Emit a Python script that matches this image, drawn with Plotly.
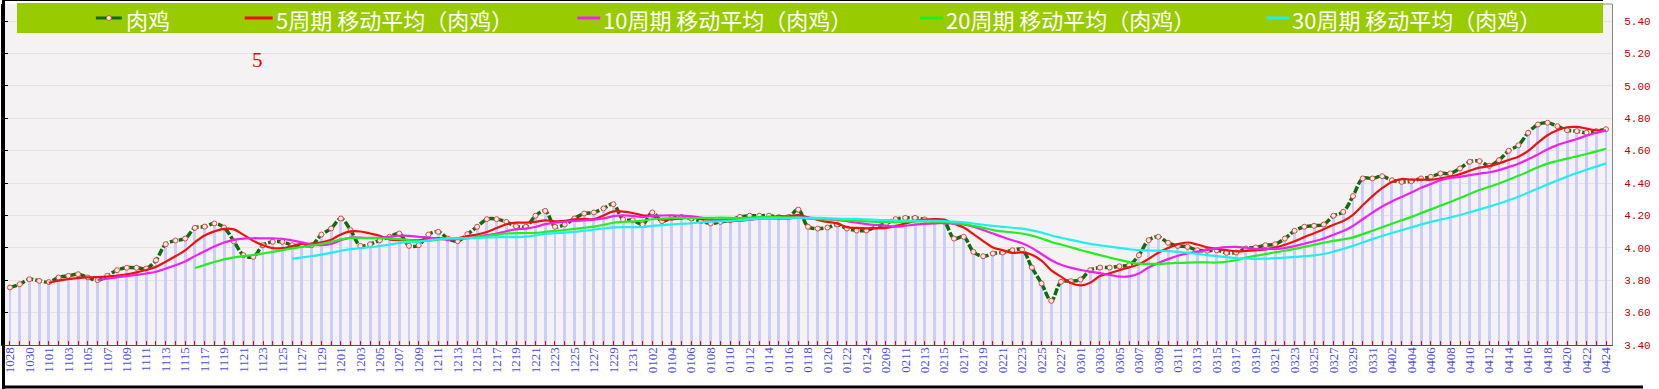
import plotly.graph_objects as go
import pandas as pd

# ---------------- data ----------------
date_segments = [(10, 28, 31), (11, 1, 30), (12, 1, 31), (1, 1, 25),
                 (2, 9, 28), (3, 1, 31), (4, 1, 24)]
dates = [f"{m:02d}{d:02d}" for m, a, b in date_segments for d in range(a, b + 1)]

chicken = [
    3.755, 3.775, 3.806, 3.796, 3.788, 3.817, 3.827, 3.837, 3.817, 3.800,
    3.827, 3.862, 3.877, 3.877, 3.872, 3.923, 4.022, 4.045, 4.057, 4.123,
    4.131, 4.150, 4.125, 4.040, 3.954, 3.944, 4.016, 4.037, 4.037, 4.016,
    4.016, 4.016, 4.082, 4.119, 4.181, 4.109, 4.012, 4.022, 4.047, 4.068,
    4.088, 4.012, 4.016, 4.082, 4.099, 4.057, 4.041, 4.084, 4.130, 4.177,
    4.177, 4.160, 4.133, 4.130, 4.198, 4.228, 4.130, 4.144, 4.181, 4.212,
    4.218, 4.243, 4.269, 4.175, 4.170, 4.144, 4.218, 4.164, 4.185, 4.191,
    4.181, 4.164, 4.150, 4.160, 4.170, 4.191, 4.198, 4.198, 4.198, 4.189,
    4.190, 4.236, 4.130, 4.119, 4.125, 4.144, 4.119, 4.107, 4.107, 4.130,
    4.150, 4.177, 4.185, 4.185, 4.175, 4.164, 4.160, 4.057, 4.068, 3.975,
    3.948, 3.965, 3.971, 3.985, 3.989, 3.878, 3.780, 3.673, 3.790, 3.794,
    3.804, 3.862, 3.878, 3.878, 3.886, 3.893, 3.954, 4.047, 4.068, 4.031,
    4.012, 4.006, 3.985, 3.982, 3.985, 3.969, 3.971, 3.996, 4.002, 4.016,
    4.022, 4.057, 4.105, 4.130, 4.136, 4.144, 4.198, 4.222, 4.319, 4.428,
    4.428, 4.442, 4.417, 4.407, 4.411, 4.428, 4.438, 4.459, 4.459, 4.490,
    4.531, 4.535, 4.506, 4.541, 4.599, 4.633, 4.710, 4.761, 4.772, 4.751,
    4.726, 4.720, 4.710, 4.720, 4.732,
]

ma_periods = [5, 10, 20, 30]
series_names = ["肉鸡"] + [f"{p}周期 移动平均（肉鸡）" for p in ma_periods]
y_tick_start, y_tick_step = 3.40, 0.20
y_tick_vals = [3.40, 3.60, 3.80, 4.00, 4.20, 4.40, 4.60, 4.80, 5.00, 5.20, 5.40]

# ---------------- styling ----------------
W, H = 1659, 389
ML, MR, MT, MB = 2, 47, 4, 44
PW = W - ML - MR
PH = H - MT - MB
FIRST_X, LAST_X = 8, 1606
n = len(dates)
per = (LAST_X - FIRST_X) / (n - 1)
x_range = [(ML - FIRST_X) / per, (n - 1) + (W - MR - LAST_X) / per]
y_range = [3.40, 3.40 + PH / 162.0]


def px(xp):
    return (xp - ML) / PW


def py(yp):
    return (H - MB - yp) / PH


main_color = "#0B6E0B"
ma_colors = ["#EE1111", "#EE22EE", "#22EE22", "#22EEEE"]

idx = list(range(n))
s = pd.Series(chicken)

fig = go.Figure()
fig.add_trace(go.Bar(x=idx, y=chicken, width=0.3, marker_color="#CCCCFF",
                     marker_line_width=0, showlegend=False, hoverinfo="skip"))
fig.add_trace(go.Scatter(
    x=idx, y=chicken, name=series_names[0], mode="lines+markers",
    line=dict(color=main_color, width=3.5, shape="spline", dash="7px,2px"),
    marker=dict(symbol="circle", size=5, color="#FFE8E8",
                line=dict(color="#E04848", width=1)),
    showlegend=False))
for p, c, nm in zip(ma_periods, ma_colors, series_names[1:]):
    ma = s.rolling(p).mean()
    fig.add_trace(go.Scatter(
        x=idx, y=ma, name=nm, mode="lines",
        line=dict(color=c, width=2.2, shape="spline"), showlegend=False))

# invisible trace for left axis
fig.add_trace(go.Scatter(x=[0], y=[3.5], yaxis="y2", mode="markers",
                         marker=dict(opacity=0), showlegend=False,
                         hoverinfo="skip"))

ticktext = [d if i % 2 == 0 else "" for i, d in enumerate(dates)]

shapes = []
annotations = []
# legend band
shapes.append(dict(type="rect", xref="paper", yref="paper",
                   x0=px(15), x1=px(1603), y0=py(33), y1=py(3),
                   fillcolor="#99CC00", line=dict(width=0), layer="above"))
leg_lines = [(94, 120), (243, 271), (576, 599), (919, 942), (1266, 1289)]
leg_text_x = [122, 272, 600, 943, 1290]
leg_colors = [main_color] + ma_colors
for (a, b), tx, col, nm in zip(leg_lines, leg_text_x, leg_colors, series_names):
    shapes.append(dict(type="line", xref="paper", yref="paper",
                       x0=px(a), x1=px(b), y0=py(18), y1=py(18),
                       line=dict(color=col, width=3), layer="above"))
    annotations.append(dict(xref="paper", yref="paper", x=px(tx), y=py(19),
                            xanchor="left", yanchor="middle", showarrow=False,
                            text=nm, font=dict(family="Noto Sans CJK SC",
                                               size=22, color="white")))
shapes.append(dict(type="circle", xref="paper", yref="paper",
                   x0=px(104.5), x1=px(109.5), y0=py(20.5), y1=py(15.5),
                   fillcolor="#FFE8E8", line=dict(color="#E04848", width=1),
                   layer="above"))
# red "5"
annotations.append(dict(xref="paper", yref="paper", x=px(256), y=py(60),
                        xanchor="center", yanchor="middle", showarrow=False,
                        text="5", font=dict(family="Liberation Serif", size=21,
                                            color="#EE0000")))
# top plot border (gray) and outer frame
shapes.append(dict(type="line", xref="paper", yref="paper",
                   x0=px(1603), x1=1, y0=1, y1=1,
                   line=dict(color="#888888", width=1)))
shapes.append(dict(type="line", xref="paper", yref="paper",
                   x0=px(0), x1=px(1603), y0=py(0.5), y1=py(0.5),
                   line=dict(color="black", width=1)))
shapes.append(dict(type="line", xref="paper", yref="paper",
                   x0=px(1.5), x1=px(1.5), y0=py(0), y1=py(389),
                   line=dict(color="black", width=3)))
shapes.append(dict(type="line", xref="paper", yref="paper",
                   x0=px(0), x1=px(1643), y0=py(387), y1=py(387),
                   line=dict(color="black", width=3)))

fig.update_layout(
    width=W, height=H,
    margin=dict(l=ML, r=MR, t=MT, b=MB, pad=0),
    paper_bgcolor="white", plot_bgcolor="#F4F2F2",
    showlegend=False,
    bargap=0,
    xaxis=dict(range=x_range, tickmode="array", tickvals=idx,
               ticktext=ticktext, tickangle=-90,
               tickfont=dict(family="Liberation Serif", size=13,
                             color="#4B4BE0"),
               ticks="inside", ticklen=4, tickcolor="#FF0000", tickwidth=1,
               ticklabelstandoff=-4,
               showline=True, linecolor="#FF0000", linewidth=1,
               showgrid=False, zeroline=False),
    yaxis=dict(range=y_range, side="right", tickmode="linear",
               tick0=y_tick_start, dtick=y_tick_step, tickformat=".2f",
               tickfont=dict(family="Liberation Mono", size=11,
                             color="#C00000"),
               ticks="", ticklabelstandoff=9,
               showline=True, linecolor="#888888", linewidth=1,
               showgrid=True, gridcolor="#E4E2E2", gridwidth=1,
               zeroline=False),
    yaxis2=dict(range=y_range, overlaying="y", side="left", tickmode="array",
                tickvals=y_tick_vals, showticklabels=False, ticks="inside",
                ticklen=4, tickcolor="black", showline=True,
                linecolor="black", linewidth=3, showgrid=False,
                zeroline=False),
    shapes=shapes, annotations=annotations,
)

fig.write_html("out.html",
               config={"displayModeBar": False},
               post_script="document.body.style.margin='0';"
                           "document.body.style.overflow='hidden';")
